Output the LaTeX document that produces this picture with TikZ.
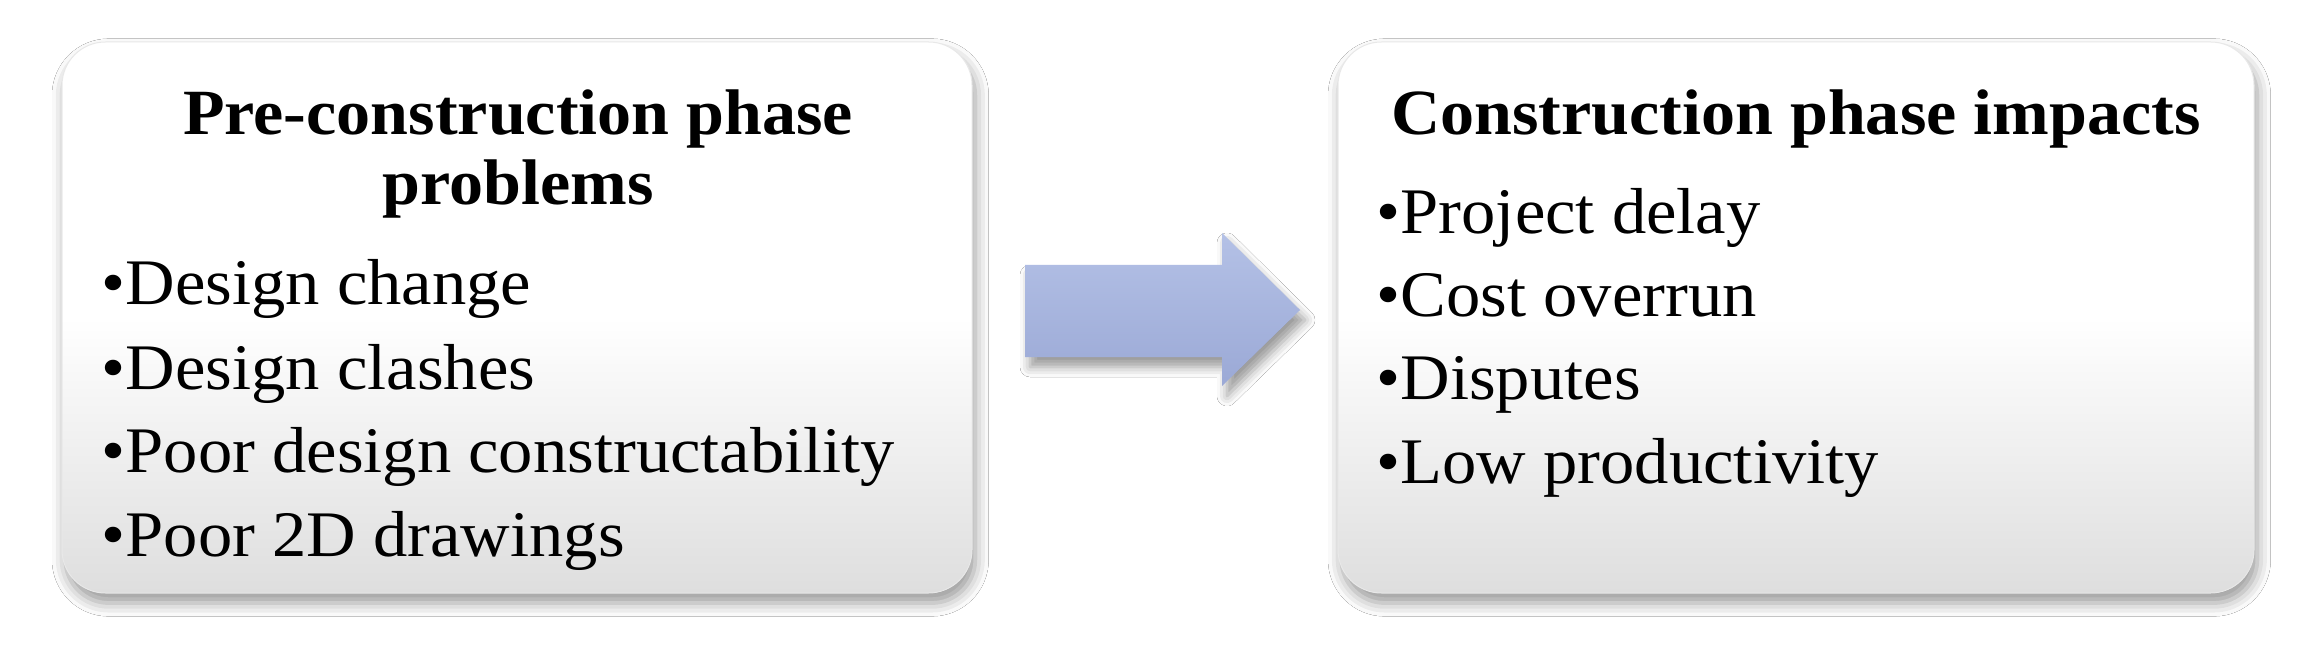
\documentclass[tikz,border=0pt]{standalone}
\usepackage{fontspec}
\setmainfont{Liberation Serif}[FakeStretch=1.055]
\usetikzlibrary{shadows.blur}
\definecolor{boxbot}{RGB}{222,222,222}
\definecolor{arrtop}{RGB}{180,193,230}
\definecolor{arrbot}{RGB}{155,169,214}
\tikzset{
  panel/.style={rounded corners=13pt, top color=white, bottom color=boxbot, middle color=white,
    draw=gray!18, line width=0.3pt, inner sep=0pt,
    blur shadow={shadow xshift=1pt, shadow yshift=-3pt, shadow blur radius=4pt, shadow opacity=40}},
  blockarrow/.style={top color=arrtop, bottom color=arrbot, draw=none,
    blur shadow={shadow xshift=1.5pt, shadow yshift=-3pt, shadow blur radius=3pt, shadow opacity=40}},
  head/.style={font=\bfseries\fontsize{19.35}{22}\selectfont, anchor=base, inner sep=0pt},
  item/.style={font=\fontsize{19.5}{22}\selectfont, anchor=base west, inner sep=0pt},
}
\begin{document}
\begin{tikzpicture}[x=0.3pt,y=-0.3pt]
\useasboundingbox[fill=white] (0,0) rectangle (2304,651);
% boxes
\node[panel, minimum width=273pt, minimum height=165.3pt] (L) at (517,317.5) {};
\node[panel, minimum width=274.8pt, minimum height=165.3pt] (R) at (1796,317.5) {};
% arrow
\path[blockarrow] (1025,265) -- (1222,265) -- (1222,233) -- (1300,310) -- (1222,386) -- (1222,357) -- (1025,357) -- cycle;
% left texts
\node[head] (lh1) at (518,135) {Pre-construction phase};
\node[head] (lh2) at (518,205) {problems};
\node[item] (l1) at (101,305) {•Design change};
\node[item] (l2) at (101,389) {•Design clashes};
\node[item] (l3) at (101,472) {•Poor design constructability};
\node[item] (l4) at (101,556) {•Poor 2D drawings};
% right texts
\node[head] (rh) at (1796,135) {Construction phase impacts};
\node[item] (r1) at (1376,234) {•Project delay};
\node[item] (r2) at (1376,317) {•Cost overrun};
\node[item] (r3) at (1376,400) {•Disputes};
\node[item] (r4) at (1376,483) {•Low productivity};
\end{tikzpicture}
\end{document}
